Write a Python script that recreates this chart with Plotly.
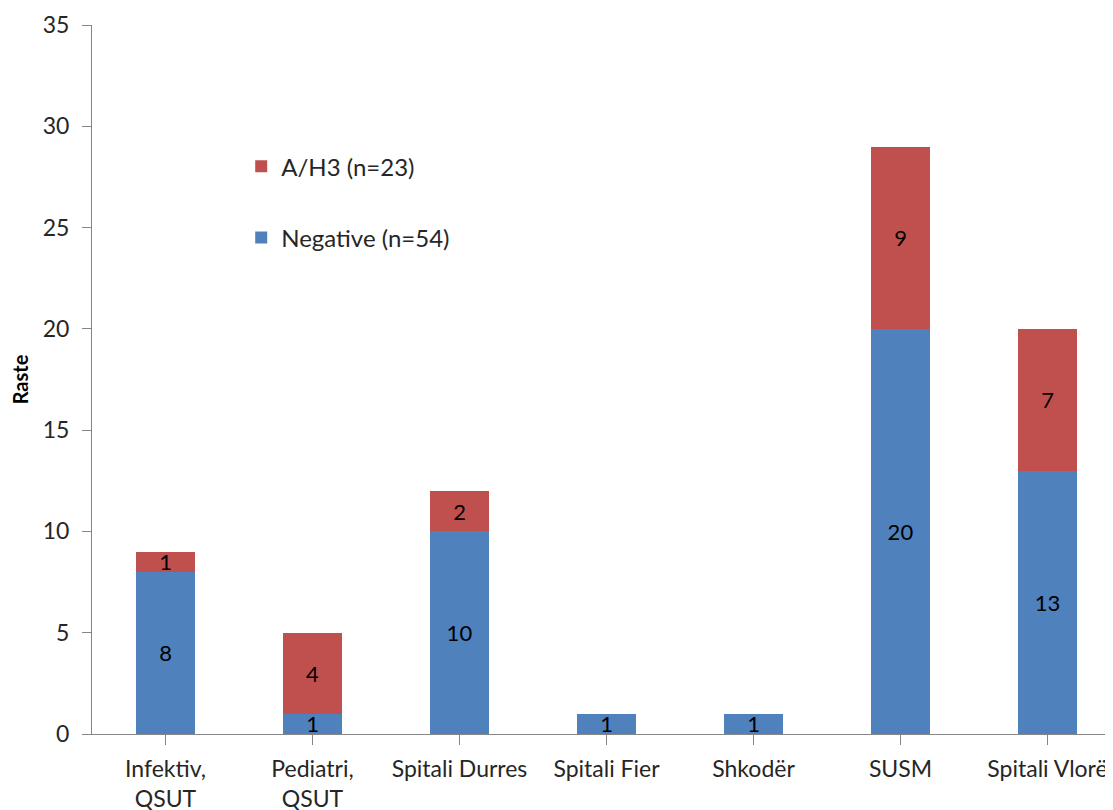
import plotly.graph_objects as go

categories = ["Infektiv,<br>QSUT", "Pediatri,<br>QSUT", "Spitali Durres", "Spitali Fier",
              "Shkodër", "SUSM", "Spitali Vlorë"]
negative = [8, 1, 10, 1, 1, 20, 13]
ah3 = [1, 4, 2, 0, 0, 9, 7]
neg_name = "Negative (n=54)"
ah3_name = "A/H3 (n=23)"

FONT = "Lato, 'Open Sans', sans-serif"
BLUE = "#4F81BD"
RED = "#C0504D"
TXT = "#262626"

xs = list(range(len(categories)))

fig = go.Figure()
fig.add_trace(go.Bar(
    x=xs, y=negative, name=neg_name, marker=dict(color=BLUE, line=dict(width=0)),
    width=0.4, text=[str(v) if v else "" for v in negative], textposition="inside",
    insidetextanchor="middle", textangle=0,
    textfont=dict(color="black", size=22, family=FONT),
    cliponaxis=False, legendgroup="neg", legendrank=2,
))
fig.add_trace(go.Bar(
    x=xs, y=ah3, name=ah3_name, marker=dict(color=RED, line=dict(width=0)),
    width=0.4, text=[str(v) if v else "" for v in ah3], textposition="inside",
    insidetextanchor="middle", textangle=0,
    textfont=dict(color="black", size=22, family=FONT),
    cliponaxis=False, legendgroup="ah3", legendrank=1,
))

fig.update_layout(
    barmode="stack",
    width=1113, height=810,
    margin=dict(l=84, r=0, t=17, b=84, autoexpand=False),
    paper_bgcolor="white", plot_bgcolor="white",
    font=dict(family=FONT, size=22, color=TXT),
    uniformtext=dict(minsize=22, mode="show"),
    showlegend=True,
    legend=dict(
        x=0.145, y=0.832, xanchor="left", yanchor="top",
        traceorder="grouped", tracegroupgap=37,
        font=dict(family=FONT, size=24, color=TXT),
        bgcolor="rgba(0,0,0,0)", itemwidth=30,
    ),
    xaxis=dict(
        range=[-0.5, 6.5], tickmode="array", tickvals=xs, ticktext=categories,
        tickson="boundaries", ticks="outside", ticklen=10, tickcolor="#868686",
        showline=True, linecolor="#868686", linewidth=1, showgrid=False, zeroline=False,
        tickfont=dict(family=FONT, size=23, color=TXT), automargin=False,
        ticklabelstandoff=4,
    ),
    yaxis=dict(
        range=[0, 35], dtick=5, ticks="outside", ticklen=9, tickcolor="#868686",
        showline=True, linecolor="#868686", linewidth=1, showgrid=False, zeroline=False,
        tickfont=dict(family=FONT, size=23, color=TXT), automargin=False,
        ticklabelstandoff=8,
        title=dict(text="<b>Raste</b>", font=dict(family=FONT, size=20, color="black"), standoff=14),
    ),
)

fig.write_html("out.html")
